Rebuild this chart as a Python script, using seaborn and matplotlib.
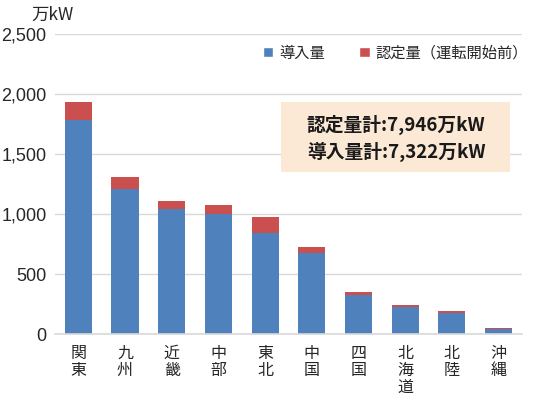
import matplotlib
matplotlib.use("Agg")
import matplotlib.pyplot as plt
import seaborn as sns
import pandas as pd
from matplotlib.patches import Patch, Rectangle

# data (万kW)
regions = ["関東", "九州", "近畿", "中部", "東北", "中国", "四国", "北海道", "北陸", "沖縄"]
installed = [1780, 1208, 1042, 1002, 838, 677, 328, 228, 178, 42]
pending = [150, 100, 69, 75, 136, 47, 19, 14, 11, 5]
yticks = [0, 500, 1000, 1500, 2000, 2500]
certified_total_label = "認定量計:7,946万kW"
installed_total_label = "導入量計:7,322万kW"

blue = "#4F81BD"
red = "#C9504E"
text_color = "#262626"

sns.set_theme(style="white")
plt.rcParams["font.family"] = ["Liberation Sans", "Noto Sans CJK JP", "DejaVu Sans"]

df = pd.DataFrame({"region": regions, "installed": installed, "pending": pending})
df["total"] = df["installed"] + df["pending"]

fig = plt.figure(figsize=(5.47, 3.95), dpi=100)
ax = fig.add_axes([0.1005, 0.1544, 0.8535, 0.7595])

sns.barplot(data=df, x="region", y="total", color=red, saturation=1,
            width=0.58, linewidth=0, ax=ax)
sns.barplot(data=df, x="region", y="installed", color=blue, saturation=1,
            width=0.58, linewidth=0, ax=ax)

ax.set_ylim(0, 2500)
ax.set_xlim(-0.5, len(regions) - 0.5)
ax.set_yticks(yticks)
ax.set_yticklabels([f"{v:,}" for v in yticks], fontsize=13, color=text_color)
ax.set_xticks(range(len(regions)))
ax.set_xticklabels(["\n".join(r) for r in regions], fontsize=11.5,
                   color=text_color, linespacing=0.98,
                   family=["Noto Sans CJK JP"])
ax.tick_params(axis="both", length=0)
ax.tick_params(axis="y", pad=6)
ax.tick_params(axis="x", pad=8)
ax.set_xlabel("")
ax.set_ylabel("")
ax.yaxis.grid(True, color="#D9D9D9", linewidth=1)
ax.set_axisbelow(True)
for side in ["top", "right", "left"]:
    ax.spines[side].set_visible(False)
ax.spines["bottom"].set_color("#D9D9D9")
ax.spines["bottom"].set_linewidth(1.2)

fig.text(0.058, 0.985, "万kW", fontsize=12.5, color=text_color, va="top", ha="left",
         family=["Noto Sans CJK JP"])

handles = [Patch(facecolor=blue, label="導入量"),
           Patch(facecolor=red, label="認定量（運転開始前）")]
fig.legend(handles=handles, loc="center", bbox_to_anchor=(0.723, 0.866),
           ncol=2, frameon=False, handlelength=0.7, handleheight=0.7,
           handletextpad=0.4, columnspacing=2.2,
           prop={"family": ["Noto Sans CJK JP"], "size": 11},
           labelcolor=text_color)

fig.patches.append(Rectangle((0.5137, 0.5646), 0.4187, 0.1772,
                             transform=fig.transFigure, facecolor="#FBE8D5",
                             edgecolor="none", zorder=5))
fig.text(0.561, 1 - 125 / 395, certified_total_label, fontsize=13.5, fontweight="bold",
         color="#1a1a1a", va="center", ha="left", zorder=6,
         family=["Noto Sans CJK JP"])
fig.text(0.561, 1 - 152 / 395, installed_total_label, fontsize=13.5, fontweight="bold",
         color="#1a1a1a", va="center", ha="left", zorder=6,
         family=["Noto Sans CJK JP"])

fig.savefig("out.png", dpi=100)
